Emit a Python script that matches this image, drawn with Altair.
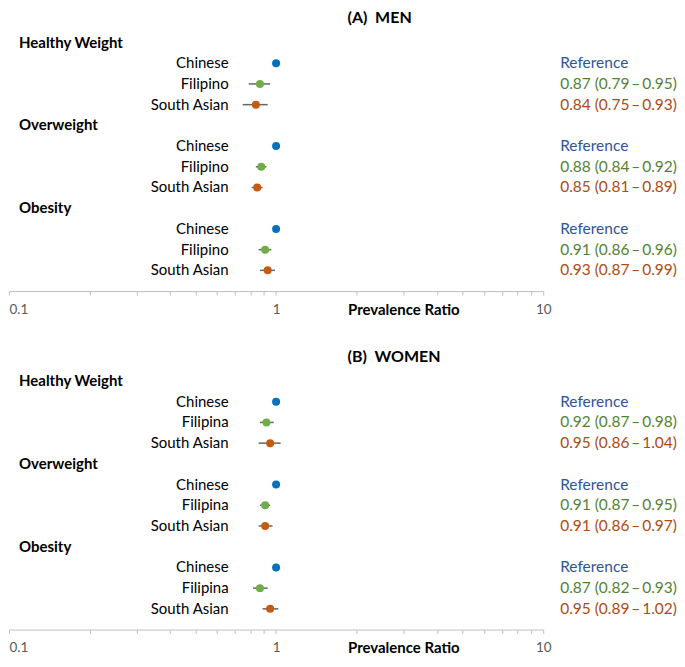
import altair as alt
import pandas as pd

# ---------------- data ----------------
groups = ["Healthy Weight", "Overweight", "Obesity"]
roles = ["ref", "g1", "g2"]

men_labels = ["Chinese", "Filipino", "South Asian"]
men_est = [[1.00, 0.87, 0.84], [1.00, 0.88, 0.85], [1.00, 0.91, 0.93]]
men_lo = [[None, 0.79, 0.75], [None, 0.84, 0.81], [None, 0.86, 0.87]]
men_hi = [[None, 0.95, 0.93], [None, 0.92, 0.89], [None, 0.96, 0.99]]

women_labels = ["Chinese", "Filipina", "South Asian"]
women_est = [[1.00, 0.92, 0.95], [1.00, 0.91, 0.91], [1.00, 0.87, 0.95]]
women_lo = [[None, 0.87, 0.86], [None, 0.87, 0.86], [None, 0.82, 0.89]]
women_hi = [[None, 0.98, 1.04], [None, 0.95, 0.97], [None, 0.93, 1.02]]

tick_values = [0.1, 0.2, 0.3, 0.4, 0.5, 0.6, 0.7, 0.8, 0.9,
               1, 2, 3, 4, 5, 6, 7, 8, 9, 10]

# ---------------- styles ----------------
FONT = "Lato"
point_colors = ["#0070C0", "#70AD47", "#C55A11"]
text_colors = ["#2F5597", "#548235", "#AE4A14"]
W, H = 535, 283
ROW_DOMAIN = [-1.643, 12]


def make_panel(title, labels, est, lo, hi):
    heads = pd.DataFrame({"row": [i * 4 for i in range(len(groups))], "text": groups})
    recs = []
    for gi in range(len(groups)):
        for k in range(len(labels)):
            e, l, h = est[gi][k], lo[gi][k], hi[gi][k]
            note = "Reference" if l is None else f"{e:.2f} ({l:.2f}\u2009\u2013\u2009{h:.2f})"
            recs.append({"row": gi * 4 + 1 + k, "label": labels[k], "role": roles[k],
                         "est": e, "lo": l, "hi": h, "note": note})
    items = pd.DataFrame(recs)
    ci = items[items["lo"].notna()]

    xscale = alt.Scale(type="log", domain=[0.1, 10], nice=False)
    yscale = alt.Scale(domain=ROW_DOMAIN, reverse=True, nice=False, zero=False)
    xaxis = alt.Axis(
        values=tick_values,
        labelExpr="indexof([0.1, 1, 10], datum.value) >= 0 ? format(datum.value, '~g') : ''",
        labelOverlap=False, labelFlush=False, grid=False,
        labelAlign=alt.ConditionalAxisLabelAlign(
            condition={"test": "datum.value <= 0.1", "value": "left"}, value="center"),
        domainColor="#BFBFBF", tickColor="#BFBFBF", tickSize=4,
        labelColor="#595959", labelFont=FONT, labelFontSize=13.5, labelPadding=7,
        title="Prevalence Ratio", titleFont=FONT, titleFontSize=15, titleFontWeight="bold",
        titleColor="#000000", titleAlign="left", titleAnchor="start",
        titleX=339, titleY=18, titleBaseline="middle",
    )
    y_enc = alt.Y("row:Q", scale=yscale, axis=None)

    title_layer = alt.Chart(pd.DataFrame({"t": [title]})).mark_text(
        align="left", baseline="middle", font=FONT, fontSize=16, fontWeight="bold", color="#000000"
    ).encode(text="t:N", x=alt.value(339), y=alt.value(10))

    head_layer = alt.Chart(heads).mark_text(
        align="left", baseline="middle", font=FONT, fontSize=15, fontWeight="bold", color="#000000"
    ).encode(x=alt.value(10), y=y_enc, text="text:N")

    label_layer = alt.Chart(items).mark_text(
        align="right", baseline="middle", font=FONT, fontSize=15, color="#000000"
    ).encode(x=alt.value(220), y=y_enc, text="label:N")

    rule_layer = alt.Chart(ci).mark_rule(color="#666666", strokeWidth=1.5).encode(
        x=alt.X("lo:Q", scale=xscale, axis=xaxis), x2="hi:Q", y=y_enc)

    point_layer = alt.Chart(items).mark_circle(size=64, opacity=1).encode(
        x=alt.X("est:Q", scale=xscale, axis=xaxis), y=y_enc,
        color=alt.Color("role:N", scale=alt.Scale(domain=roles, range=point_colors), legend=None))

    note_layer = alt.Chart(items).mark_text(
        align="left", baseline="middle", font=FONT, fontSize=15.5
    ).encode(x=alt.value(552), y=y_enc, text="note:N",
             color=alt.Color("role:N", scale=alt.Scale(domain=roles, range=text_colors), legend=None))

    return alt.layer(title_layer, head_layer, label_layer, rule_layer, point_layer, note_layer
                     ).resolve_scale(color="independent").properties(width=W, height=H)


men = make_panel("(A)\u00a0\u00a0MEN", men_labels, men_est, men_lo, men_hi)
women = make_panel("(B)\u00a0\u00a0WOMEN", women_labels, women_est, women_lo, women_hi)

chart = alt.vconcat(men, women, spacing=30).properties(
    padding={"left": 0, "top": 0, "right": 0, "bottom": 0}
).configure_view(stroke=None)

chart.save("out.html", embed_options={"renderer": "svg", "actions": False})
